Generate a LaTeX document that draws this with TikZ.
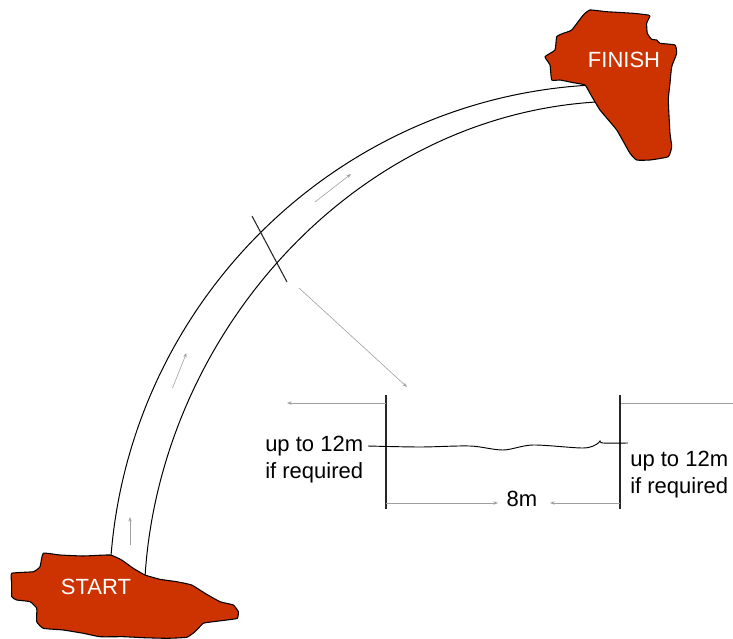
\documentclass[tikz,border=0pt]{standalone}
\usepackage{fontspec}
\setmainfont{Liberation Sans}
\usetikzlibrary{arrows.meta}
\definecolor{rock}{HTML}{CC3300}
\begin{document}
\begin{tikzpicture}[x=0.75pt,y=-0.75pt,
  rockshape/.style={fill=rock,draw=black,line width=0.8pt,line join=round},
  roadedge/.style={draw=black,line width=0.75pt},
  flow/.style={draw=gray!75,line width=0.45pt,-{Stealth[length=3.5pt,width=2.6pt]}},
  thin/.style={draw=gray!75,line width=0.45pt},
  post/.style={draw=black!85,line width=0.8pt},
  lbl/.style={font=\fontsize{16.5}{20}\selectfont,inner sep=0pt,align=left},
  rocklbl/.style={font=\fontsize{16.5}{20}\selectfont,text=white,inner sep=0pt}]
\useasboundingbox (0,0) rectangle (733,639);

% ---- the two edges of the curved track ----
\draw[roadedge] (111,556) .. controls (131,301) and (337,98) .. (592,85);
\draw[roadedge] (145,577) .. controls (160,334) and (353,117) .. (596,102);

% ---- direction arrows along the track ----
\coordinate (a1s) at (130,545); \coordinate (a1e) at (130,517);
\coordinate (a2s) at (172.5,388); \coordinate (a2e) at (186.5,353);
\coordinate (a3s) at (315,202); \coordinate (a3e) at (351,174);
\draw[flow] (a1s) -- (a1e);
\draw[flow] (a2s) -- (a2e);
\draw[flow] (a3s) -- (a3e);

% ---- section cut and its leader ----
\coordinate (cutA) at (252,216); \coordinate (cutB) at (287,282);
\draw[black!85,line width=0.8pt] (cutA) -- (cutB);
\coordinate (leadA) at (299,288); \coordinate (leadB) at (407,387);
\draw[flow] (leadA) -- (leadB);

% ---- cross section ----
\coordinate (lpTop) at (386,395); \coordinate (lpBot) at (386,509);
\coordinate (rpTop) at (620,395); \coordinate (rpBot) at (620,509);
\draw[post] (lpTop) -- (lpBot);
\draw[post] (rpTop) -- (rpBot);

\coordinate (lext) at (386,403); \coordinate (lextEnd) at (287,403);
\draw[flow] (lext) -- (lextEnd);
\coordinate (rext) at (621,403); \coordinate (rextEnd) at (733,403);
\draw[thin] (rext) -- (rextEnd);

% ground line
\draw[black,line width=0.7pt] plot[smooth,tension=0.5] coordinates {
  (368,446) (420,447) (470,446) (503,450) (533,445) (583,448) (597,444)
  (600,441) (603,443) (628,443)};

% span dimension
\node[lbl] (span) at (522,499) {8m};
\coordinate (dimL) at (386,503); \coordinate (dimR) at (620,503);
\coordinate (dimLe) at (498,503); \coordinate (dimRe) at (550,503);
\draw[flow] (dimL) -- (dimLe);
\draw[flow] (dimR) -- (dimRe);

% labels
\node[lbl,anchor=north west] (lblL) at (265,436) {up to 12m\\if required};
\node[lbl,anchor=north west] (lblR) at (630,451) {up to 12m\\if required};

% ---- start and finish areas ----
\draw[rockshape] plot[smooth cycle,tension=0.25] coordinates {
  (545,56.7) (555,50) (556.7,36.7) (563.3,33.3) (571.7,30) (583.3,15)
  (590,10) (606.7,11.7) (633.3,13.3) (648.3,15) (650,16) (646.7,23.3)
  (647.3,33.3) (651.7,39.3) (656.7,40) (660,43.3) (675,45) (676.7,53.3)
  (671.7,66.7) (670,83.3) (668.3,100) (670,133.3) (671.7,146.7) (668.3,156.7)
  (650,160) (636.7,160) (630,153.3) (616.7,130) (600,110) (590,93.3)
  (585,85) (573.3,82.7) (560,80) (551.7,80) (550,65)};
\node[rocklbl] (finish) at (624,60) {FINISH};

\draw[rockshape] plot[smooth cycle,tension=0.25] coordinates {
  (11.7,573.3) (33.3,571.7) (40,566.7) (43.3,553.3) (60,555) (83.3,556)
  (110,555) (121.7,560) (133.3,568.3) (145,575) (160,579.3) (176.7,581.7)
  (191.7,585) (205,593.3) (220,601.7) (233.3,605) (238.3,611.7) (237.3,618.3)
  (226.7,620) (213.3,621.7) (203.3,623.3) (195,631.7) (186.7,637.3)
  (166.7,638.3) (143.3,637.7) (123.3,636.7) (100,636.7) (83.3,633.3)
  (63.3,630) (43.3,628.3) (36.7,621.7) (36.7,608.3) (30,601.7) (16.7,600)
  (11.7,596.7) (11.7,583.3)};
\node[rocklbl] (start) at (96,587) {START};
\end{tikzpicture}
\end{document}
